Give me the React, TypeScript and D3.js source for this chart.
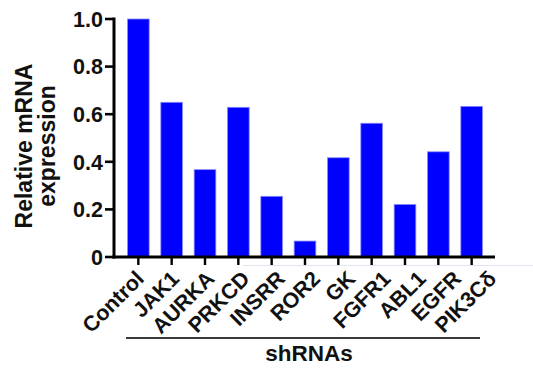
import React from "react";
import * as d3 from "d3";

const categories = ["Control", "JAK1", "AURKA", "PRKCD", "INSRR", "ROR2", "GK", "FGFR1", "ABL1", "EGFR", "PIK3Cδ"];
const values = [1.0, 0.65, 0.367, 0.629, 0.255, 0.067, 0.417, 0.562, 0.221, 0.442, 0.633];
const yTicks = [0, 0.2, 0.4, 0.6, 0.8, 1.0];
const yTickLabels = ["0", "0.2", "0.4", "0.6", "0.8", "1.0"];
const yTitleLines = ["Relative mRNA", "expression"];
const xTitle = "shRNAs";

const W = 533;
const H = 369;
const FONT = "'Liberation Sans', Arial, Helvetica, sans-serif";

export default function App() {
  const axisX = 114;
  const axisRight = 495;
  const x = d3
    .scaleBand<string>()
    .domain(categories)
    .range([axisX + 1, axisRight])
    .paddingInner(0.35)
    .paddingOuter(0.375);
  const y = d3.scaleLinear().domain([0, 1]).range([257, 19]);
  const y0 = y(0);
  const center = (c: string) => x(c)! + x.bandwidth() / 2;

  // rotated labels fan out slightly wider than the tick spacing
  const labelX = d3
    .scalePoint<string>()
    .domain(categories)
    .range([center(categories[0]) + 7, center(categories[categories.length - 1]) + 26]);

  return (
    <svg
      width={W}
      height={H}
      viewBox={`0 0 ${W} ${H}`}
      style={{ position: "absolute", left: 0, top: 0, background: "#fff" }}
      fontFamily={FONT}
      fontWeight="bold"
    >
      <rect x={0} y={0} width={W} height={H} fill="#fff" />

      {/* faint rule behind the category labels */}
      <line x1={243} x2={W} y1={265.5} y2={265.5} stroke="#dfe6ef" strokeWidth={1.2} />

      {/* bars */}
      {categories.map((c, i) => (
        <rect
          key={c}
          x={x(c)!}
          y={y(values[i])}
          width={x.bandwidth()}
          height={y0 - y(values[i])}
          fill="#0000ff"
          stroke="#8a8aff"
          strokeWidth={0.8}
        />
      ))}

      {/* y axis */}
      <line x1={axisX} x2={axisX} y1={y(1) - 1.5} y2={y0 + 1.5} stroke="#000" strokeWidth={3} />
      {yTicks.map((t, i) => (
        <g key={t}>
          <line x1={axisX - 9} x2={axisX} y1={y(t)} y2={y(t)} stroke="#000" strokeWidth={2.6} />
          <text x={axisX - 11} y={y(t)} dy="0.36em" textAnchor="end" fontSize={21.5} fill="#111">
            {yTickLabels[i]}
          </text>
        </g>
      ))}

      {/* x axis */}
      <line x1={axisX - 1.5} x2={axisRight} y1={y0} y2={y0} stroke="#000" strokeWidth={3} />
      {categories.map((c) => {
        const cx = center(c);
        return (
          <g key={c}>
            <line x1={cx} x2={cx} y1={y0} y2={y0 + 8} stroke="#000" strokeWidth={2.4} />
            <text
              transform={`translate(${labelX(c)},${y0 + 23}) rotate(-45)`}
              textAnchor="end"
              fontSize={21.5}
              fill="#111"
            >
              {c}
            </text>
          </g>
        );
      })}

      {/* group bracket and title */}
      <line x1={126} x2={480} y1={338} y2={338} stroke="#3a3a3a" strokeWidth={2} />
      <text x={309} y={361} textAnchor="middle" fontSize={22.5} fill="#111">
        {xTitle}
      </text>

      {/* y title */}
      <g transform="translate(0,146) rotate(-90)">
        {yTitleLines.map((line, i) => (
          <text key={line} x={0} y={32 + i * 23} textAnchor="middle" fontSize={23} fill="#111">
            {line}
          </text>
        ))}
      </g>
    </svg>
  );
}
